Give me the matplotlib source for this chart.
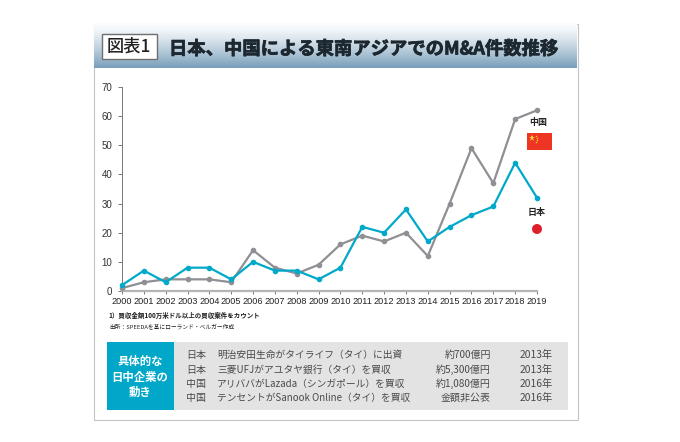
import numpy as np
import matplotlib
matplotlib.use('Agg')
import matplotlib.pyplot as plt
import matplotlib.patheffects as pe
from matplotlib.patches import Rectangle, Circle

plt.rcParams['font.family'] = ['Noto Sans CJK JP', 'DejaVu Sans']

years = list(range(2000, 2020))
china = [1, 3, 4, 4, 4, 3, 14, 8, 6, 9, 16, 19, 17, 20, 12, 30, 49, 37, 59, 62]
japan = [2, 7, 3, 8, 8, 4, 10, 7, 7, 4, 8, 22, 20, 28, 17, 22, 26, 29, 44, 32]
yticks = [0, 10, 20, 30, 40, 50, 60, 70]
title = '日本、中国による東南アジアでのM&A件数推移'
badge = '図表1'
note1 = '1）買収金額100万米ドル以上の買収案件をカウント'
note2 = '出所：SPEEDAを基にローランド・ベルガー作成'
box_head = ['具体的な', '日中企業の', '動き']
rows_country = ['日本', '日本', '中国', '中国']
rows_deal = ['明治安田生命がタイライフ（タイ）に出資', '三菱UFJがアユタヤ銀行（タイ）を買収',
             'アリババがLazada（シンガポール）を買収', 'テンセントがSanook Online（タイ）を買収']
rows_amount = ['約700億円', '約5,300億円', '約1,080億円', '金額非公表']
rows_year = ['2013年', '2013年', '2016年', '2016年']

W, H = 680, 442
fig = plt.figure(figsize=(W / 100, H / 100), dpi=100, facecolor='white')
bg = fig.add_axes([0, 0, 1, 1])
bg.set_xlim(0, W)
bg.set_ylim(H, 0)
bg.axis('off')

# frame and header
bg.add_patch(Rectangle((93.5, 23.5), 484, 396, fc='white', ec='#c4c4c4', lw=0.8))
top = np.array([250, 252, 253]) / 255
bot = np.array([120, 158, 186]) / 255
grad = np.linspace(0, 1, 64)[:, None, None] ** 1.3
img = top + (bot - top) * grad
bg.imshow(img, extent=(94, 577, 68, 24), aspect='auto', zorder=1)
bg.set_xlim(0, W)
bg.set_ylim(H, 0)
bg.add_patch(Rectangle((102, 34), 55, 25, fc='white', ec='#6f6f6f', lw=1, zorder=2))
bg.text(128.5, 47, badge, fontsize=12.4, fontweight='medium', color='#222222', ha='center', va='center', zorder=3)
tt = bg.text(169, 49, title, fontsize=13.2, fontweight='bold', color='#1d2730', ha='left', va='center', zorder=3)
tt.set_path_effects([pe.withStroke(linewidth=0.5, foreground='#1d2730')])

# chart
x0, x1, y0, y70 = 122.0, 537.0, 291.0, 87.0
ax = fig.add_axes([x0 / W, 1 - y0 / H, (x1 - x0) / W, (y0 - y70) / H])
ax.patch.set_alpha(0)
ax.plot(years, china, color='#8f8f94', lw=1.6, marker='o', ms=3.0, clip_on=False, zorder=3)
ax.plot(years, japan, color='#00a9c9', lw=1.6, marker='o', ms=3.0, clip_on=False, zorder=4)
ax.set_xlim(2000, 2019)
ax.set_ylim(0, 70)
ax.set_yticks(yticks)
ax.set_xticks(years)
ax.tick_params(axis='y', labelsize=7, length=3, width=0.7, color='#777777', pad=4, labelcolor='#333333')
ax.tick_params(axis='x', labelsize=6.6, length=2.5, width=0.7, color='#777777', pad=2, labelcolor='#222222')
for lab in ax.get_xticklabels() + ax.get_yticklabels():
    lab.set_fontfamily(['Liberation Sans'])
for s in ('top', 'right'):
    ax.spines[s].set_visible(False)
ax.spines['left'].set_color('#777777')
ax.spines['left'].set_linewidth(0.7)
ax.spines['bottom'].set_color('#b5b5b5')
ax.spines['bottom'].set_linewidth(1.6)

# labels and flags
bg.set_zorder(0)
ax.set_zorder(1)
bg.text(538.5, 122.5, '中国', fontsize=6.5, fontweight='bold', color='#222222', ha='center', va='center')
bg.add_patch(Rectangle((527, 133), 25, 17, fc='#ee3524', ec='none', zorder=2))
bg.plot([532], [138], marker='*', ms=4.5, color='#ffd83a', mew=0, zorder=3)
for px, py in [(535.5, 135.5), (537, 137.5), (537, 140), (535.5, 141.5)]:
    bg.plot([px], [py], marker='*', ms=1.8, color='#ffd83a', mew=0, zorder=3)
bg.text(537, 213, '日本', fontsize=6.5, fontweight='bold', color='#222222', ha='center', va='center')
bg.add_patch(Circle((537, 229), 5, fc='#e01f2d', ec='none', zorder=2))

# notes
bg.text(108, 315, note1, fontsize=4.7, fontweight='bold', color='#222222', ha='left', va='center')
bg.text(109, 327, note2, fontsize=4.15, color='#222222', ha='left', va='center')

# bottom box
bg.add_patch(Rectangle((106.5, 342), 67.5, 67.5, fc='#00a7c8', ec='none', zorder=2))
bg.add_patch(Rectangle((174, 342), 394, 67.5, fc='#e3e3e3', ec='none', zorder=2))
for t, y in zip(box_head, [362, 377, 392]):
    bg.text(140, y, t, fontsize=8.2, fontweight='bold', color='white', ha='center', va='center', zorder=3)
row_y = [355, 369.5, 383.5, 398]
for yy, c, d, a, v in zip(row_y, rows_country, rows_deal, rows_amount, rows_year):
    kw = dict(color='#4a4a4a', va='center', zorder=3)
    bg.text(186, yy, c, ha='left', fontsize=7.2, **kw)
    bg.text(217, yy, d, ha='left', fontsize=7.0, **kw)
    bg.text(491, yy, a, ha='right', fontsize=7.2, **kw)
    bg.text(553, yy, v, ha='right', fontsize=7.4, **kw)

fig.savefig('out.png', dpi=100)
